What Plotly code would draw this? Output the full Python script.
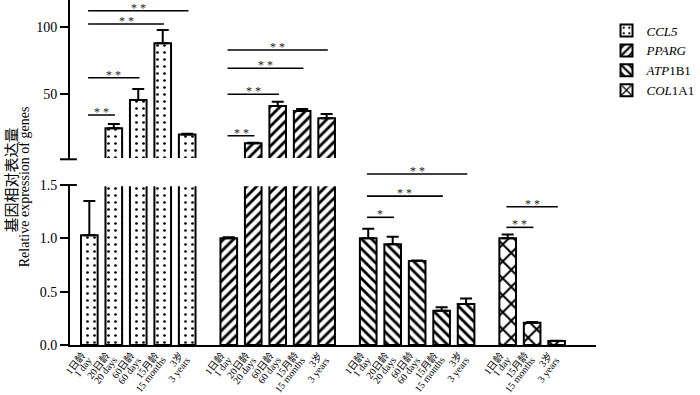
import plotly.graph_objects as go

# ---------------- data ----------------
age_line1 = ["1日龄", "20日龄", "60日龄", "15月龄", "3岁"]
age_line2 = ["1 day", "20 days", "60 days", "15 months", "3 years"]
col_idx = [0, 3, 4]  # COL1A1 was measured at these ages

legend_names = ["<i>CCL5</i>", "<i>PPARG</i>", "<i>ATP</i>1B1", "<i>COL</i>1A1"]

ccl5_mean = [1.03, 24.5, 45.5, 87.7, 20.0]
ccl5_top = [1.35, 27.7, 53.7, 97.5, 20.5]

pparg_mean = [1.0, 13.4, 41.1, 37.4, 32.0]
pparg_top = [1.01, 13.7, 44.3, 38.9, 35.1]

atp1b1_mean = [1.0, 0.944, 0.787, 0.32, 0.384]
atp1b1_top = [1.09, 1.015, 0.792, 0.353, 0.437]

col1a1_mean = [1.0, 0.209, 0.0375]
col1a1_top = [1.037, 0.215, 0.04]

# significance brackets: (gene index, from bar, to bar, height, label, panel)
brackets = [
    (0, 0, 1, 34.4, "* *", "upper"),
    (0, 0, 2, 62.1, "* *", "upper"),
    (0, 0, 3, 102.0, "* *", "upper"),
    (0, 0, 4, 111.9, "* *", "upper"),
    (1, 0, 1, 19.0, "* *", "upper"),
    (1, 0, 2, 49.8, "* *", "upper"),
    (1, 0, 3, 69.1, "* *", "upper"),
    (1, 0, 4, 82.7, "* *", "upper"),
    (2, 0, 1, 1.197, "*", "lower"),
    (2, 0, 3, 1.396, "* *", "lower"),
    (2, 0, 4, 1.603, "* *", "gap"),
    (3, 0, 1, 1.103, "* *", "lower"),
    (3, 0, 2, 1.296, "* *", "lower"),
]

ytitle_cn = "基因相对表达量"
ytitle_en = "Relative expression of genes"

# ---------------- layout constants ----------------
FONT = "Liberation Serif, Times New Roman, Noto Sans CJK SC, serif"
group_offsets = [0.0, 5.7, 11.4, 17.1]
bar_width = 0.68
lower_dom = [0.0, 0.4638]
gap_dom = [0.4638, 0.5383]
upper_dom = [0.5383, 1.0]
lower_range = [0, 1.5]
gap_range = [1.5, 1.741]
upper_range = [1.5, 119.85]
PLOT_H = 345.0

all_ages = list(range(5))
groups = [
    (ccl5_mean, ccl5_top, all_ages),
    (pparg_mean, pparg_top, all_ages),
    (atp1b1_mean, atp1b1_top, all_ages),
    (col1a1_mean, col1a1_top, col_idx),
]
patterns = [
    dict(shape=".", size=7, solidity=0.12),
    dict(shape="/", size=7, solidity=0.4),
    dict(shape="\\", size=7, solidity=0.4),
    dict(shape="x", size=12, solidity=0.3),
]

fig = go.Figure()
centers_all = []
for gi, (mean, top, ages) in enumerate(groups):
    xs = [group_offsets[gi] + k for k in range(len(mean))]
    centers_all.append(xs)
    err = [t - m for t, m in zip(top, mean)]
    for yaxis, show in (("y", True), ("y2", False)):
        fig.add_trace(go.Bar(
            x=xs, y=mean, width=bar_width, yaxis=yaxis,
            name=legend_names[gi], showlegend=show,
            marker=dict(color="white",
                        line=dict(color="black", width=2),
                        pattern=dict(fgcolor="black", bgcolor="white",
                                     fillmode="replace", **patterns[gi])),
            error_y=dict(type="data", symmetric=False, array=err,
                         arrayminus=[0] * len(err), color="black",
                         thickness=2, width=6),
        ))
    # category labels under each bar (rotated, two lines)
    for xc, a in zip(xs, ages):
        fig.add_annotation(x=xc + 0.05, y=-2 / PLOT_H, xref="x", yref="paper",
                           text=age_line1[a], textangle=-52, showarrow=False,
                           xanchor="right", yanchor="top",
                           font=dict(family=FONT, size=10, color="black"))
        fig.add_annotation(x=xc + 0.33, y=-7 / PLOT_H, xref="x",
                           yref="paper",
                           text=age_line2[a], textangle=-52, showarrow=False,
                           xanchor="right", yanchor="top",
                           font=dict(family=FONT, size=10, color="black"))

# dummy trace to create the gap subplot
fig.add_trace(go.Scatter(x=[None], y=[None], yaxis="y3", showlegend=False,
                         hoverinfo="skip"))

# white band hiding clipped bar edges at the axis break
fig.add_shape(type="rect", xref="paper", yref="paper", layer="above",
              x0=0.004, x1=1.0,
              y0=lower_dom[1] - 1.3 / PLOT_H, y1=upper_dom[0] + 1.3 / PLOT_H,
              fillcolor="white", line=dict(width=0))

ref_for = {"lower": "y", "gap": "y3", "upper": "y2"}
for gi, i, j, h, lab, panel in brackets:
    x0 = centers_all[gi][i] - 0.05
    x1 = centers_all[gi][j] + 0.05
    fig.add_shape(type="line", xref="x", yref=ref_for[panel],
                  x0=x0, x1=x1, y0=h, y1=h, layer="above",
                  line=dict(color="black", width=1.6))
    fig.add_annotation(x=(x0 + x1) / 2, y=h, xref="x", yref=ref_for[panel],
                       text=lab, showarrow=False, yanchor="middle", yshift=3,
                       font=dict(family=FONT, size=12, color="#222222"))

# break ticks crossing the axis
for yb in (upper_dom[0], lower_dom[1]):
    fig.add_shape(type="line", xref="paper", yref="paper", layer="above",
                  x0=-0.019, x1=0.013, y0=yb, y1=yb,
                  line=dict(color="black", width=2))

# y-axis title (two rotated lines)
fig.add_annotation(xref="paper", yref="paper", x=-0.1096, y=0.478,
                   text=ytitle_cn, textangle=-90, showarrow=False,
                   xanchor="center", yanchor="middle",
                   font=dict(family=FONT, size=15, color="black"))
fig.add_annotation(xref="paper", yref="paper", x=-0.0851, y=0.458,
                   text=ytitle_en, textangle=-90, showarrow=False,
                   xanchor="center", yanchor="middle",
                   font=dict(family=FONT, size=14, color="black"))

yax_common = dict(anchor="x", showline=True, linecolor="black", linewidth=2,
                  ticks="outside", ticklen=8, tickwidth=2, tickcolor="black",
                  showgrid=False, zeroline=False, automargin=False,
                  tickfont=dict(family=FONT, size=14, color="black"))

fig.update_layout(
    width=700, height=395,
    margin=dict(l=70, r=101, t=0, b=50),
    paper_bgcolor="white", plot_bgcolor="white",
    barmode="overlay",
    showlegend=True,
    legend=dict(x=1.02, y=0.955, xanchor="left", yanchor="top",
                font=dict(family=FONT, size=13, color="black"),
                bgcolor="rgba(0,0,0,0)"),
    xaxis=dict(range=[-0.79, 20.71], showline=True, linecolor="black",
               linewidth=2, ticks="", showticklabels=False,
               showgrid=False, zeroline=False, automargin=False,
               anchor="y"),
    yaxis=dict(domain=lower_dom, range=lower_range,
               tickvals=[0, 0.5, 1.0, 1.5],
               ticktext=["0.0", "0.5", "1.0", "1.5"], **yax_common),
    yaxis2=dict(domain=upper_dom, range=upper_range, tickvals=[50, 100],
                **yax_common),
    yaxis3=dict(domain=gap_dom, range=gap_range, anchor="x", showline=False,
                showticklabels=False, ticks="", showgrid=False,
                zeroline=False),
)

fig.write_html("out.html",
               config={"displayModeBar": False},
               post_script="document.body.style.margin='0';"
                           "document.body.style.padding='0';")
